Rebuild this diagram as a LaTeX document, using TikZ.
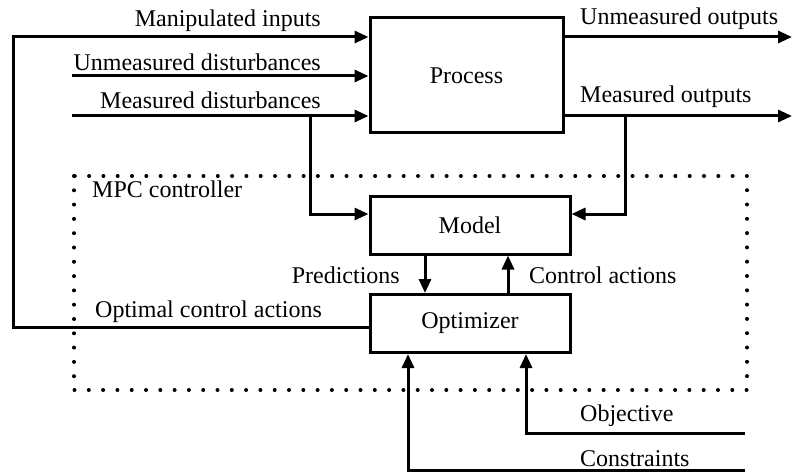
\documentclass[tikz,border=0pt]{standalone}
\usepackage{fontspec}
\setmainfont{Liberation Serif}
\usetikzlibrary{arrows.meta,positioning,calc}

\begin{document}
\begin{tikzpicture}[
  x=1pt, y=-1pt,
  >={Triangle[length=14pt,width=12pt]},
  font=\fontsize{24}{28}\selectfont,
  block/.style={draw, line width=3pt, minimum width=200pt, minimum height=58pt, inner sep=0pt},
  sig/.style={line width=3pt},
  lbl/.style={inner sep=0pt},
  ctrlbox/.style={line width=4pt, line cap=round, dash pattern=on 0pt off 14.3pt}
]
  \useasboundingbox (0,0) rectangle (792,476);

  % controller frame
  \draw[ctrlbox] (74,176) rectangle (747,390);

  \node[block, minimum width=193pt, minimum height=115pt] (process) at (466.5,75.5) {Process};
  \node[block] (model) at (470,225) {Model};
  \node[block] (optim) at (470,323.5) {Optimizer};

  \coordinate (fb) at (13,37);
  \coordinate (fbl) at (13,327);
  \coordinate (ud) at (72,76);
  \coordinate (md) at (72,116);
  \coordinate (mdtap) at (310,116);
  \coordinate (uo) at (792,37);
  \coordinate (mo) at (792,116);
  \coordinate (motap) at (625,116);
  \coordinate (obj) at (745,433);
  \coordinate (con) at (745,470);

  % process inputs and outputs
  \draw[sig,->] ($(optim.west)+(0,3.5)$) -- (fbl) -- (fb) -- (process.west |- fb);
  \draw[sig,->] (ud) -- (process.west |- ud);
  \draw[sig,->] (md) -- (process.west |- md);
  \draw[sig,->] (process.east |- uo) -- (uo);
  \draw[sig,->] (process.east |- mo) -- (mo);

  % measurements into the model
  \draw[sig,->] (mdtap) -- (mdtap |- 0,214) -- ($(model.west)+(0,-11)$);
  \draw[sig,->] (motap) -- (motap |- 0,214) -- ($(model.east)+(0,-11)$);

  % model / optimizer loop
  \draw[sig,->] ($(model.south)+(-45,0)$) -- ($(optim.north)+(-45,0)$);
  \draw[sig,->] ($(optim.north)+(38,0)$) -- ($(model.south)+(38,0)$);

  % optimizer settings
  \draw[sig,->] (obj) -| ($(optim.south)+(56,0)$);
  \draw[sig,->] (con) -| ($(optim.south)+(-62,0)$);

  % labels
  \node[lbl, anchor=base east] (lblmi) at (321,27) {Manipulated inputs};
  \node[lbl, anchor=base east] (lblud) at (321,71) {Unmeasured disturbances};
  \node[lbl, anchor=base east] (lblmd) at (321,109) {Measured disturbances};
  \node[lbl, anchor=base west] (lbluo) at (580,25) {Unmeasured outputs};
  \node[lbl, anchor=base west] (lblmo) at (580,103) {Measured outputs};
  \node[lbl, anchor=base west] (lblmpc) at (92,197) {MPC controller};
  \node[lbl, anchor=base east] (lblpred) at (400,283) {Predictions};
  \node[lbl, anchor=base west] (lblca) at (529,283) {Control actions};
  \node[lbl, anchor=base west] (lbloca) at (95,317) {Optimal control actions};
  \node[lbl, anchor=base west] (lblobj) at (580,421) {Objective};
  \node[lbl, anchor=base west] (lblcon) at (580,466) {Constraints};
\end{tikzpicture}
\end{document}
